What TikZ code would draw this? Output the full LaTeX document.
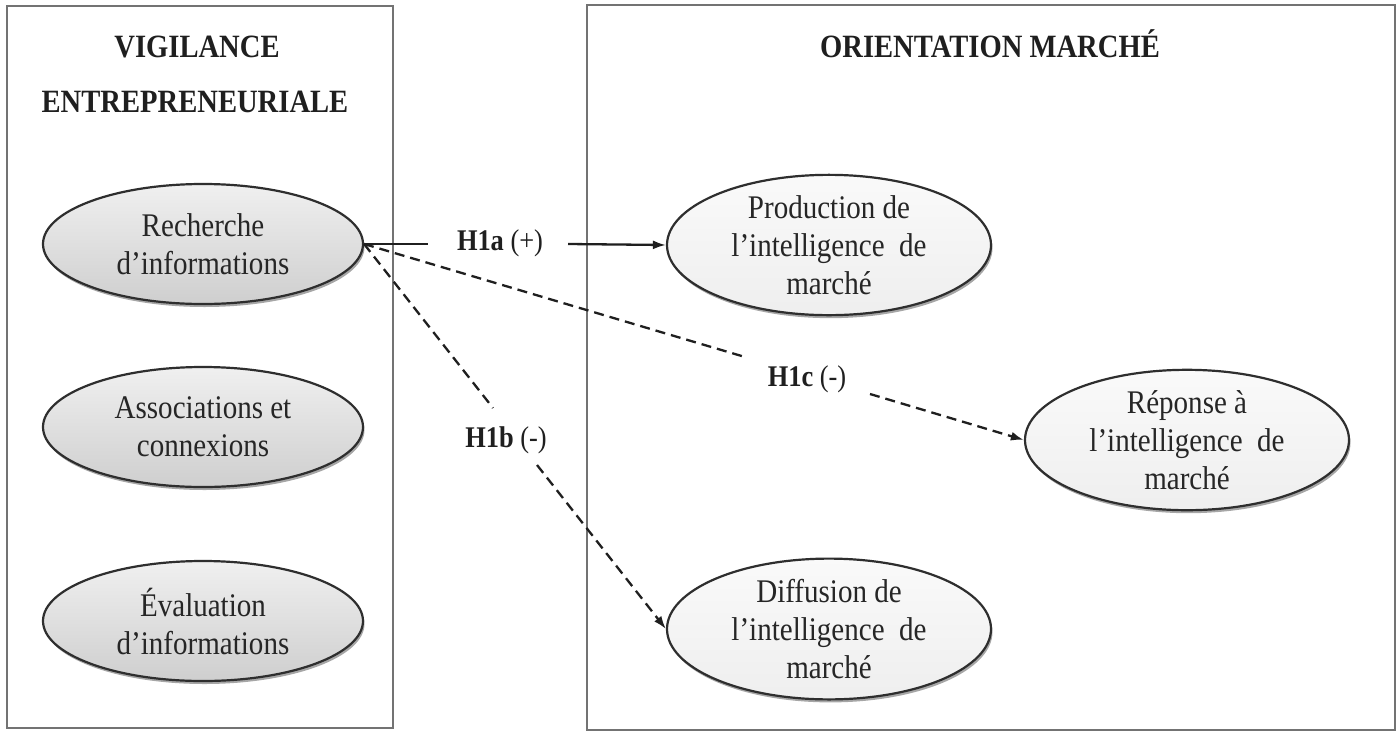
\documentclass[tikz,border=0pt]{standalone}
\usepackage{fontspec}
\setmainfont{Liberation Serif}[FakeStretch=0.88]
\usetikzlibrary{shapes.geometric,arrows.meta,shadows}
\begin{document}
\begin{tikzpicture}[x=1pt,y=-1pt,
  boxline/.style={draw=black!55,line width=1.5pt},
  title/.style={font=\fontsize{32.5}{36}\selectfont\bfseries,text=black!88,anchor=base},
  ellbase/.style={ellipse,draw=black!82,line width=2.2pt,inner sep=0pt,align=center,
     text=black!85,font=\fontsize{33}{38}\selectfont,
     drop shadow={shadow xshift=1.5pt,shadow yshift=-3pt,opacity=0.35,fill=black}},
  lell/.style={ellbase,minimum width=320pt,minimum height=120pt,top color=gray!12,bottom color=gray!38},
  rell/.style={ellbase,minimum width=324pt,minimum height=131pt,top color=gray!4,bottom color=gray!13},
  lab/.style={font=\fontsize{30}{34}\selectfont,text=black!88,inner sep=0pt},
  conn/.style={draw=black!88,line width=2.3pt},
  dconn/.style={conn,dash pattern=on 10pt off 6pt},
  tip/.style={-{Latex[length=13pt,width=9pt]}}
]
\useasboundingbox (0,0) rectangle (1399,731);
\fill[white] (0,0) rectangle (1399,731);
\draw[boxline] (7,6) rectangle (393,728);
\draw[boxline] (587,5) rectangle (1395,730);

\node[title] (t1) at (197,57) {VIGILANCE};
\node[title] (t2) at (195,112) {ENTREPRENEURIALE};
\node[title] (t3) at (990,57) {ORIENTATION MARCHÉ};

\node[lell] (rech) at (203,244) {Recherche\\d’informations};
\node[lell] (asso) at (203,427) {Associations et\\connexions};
\node[lell] (eval) at (203,621) {Évaluation\\d’informations};

\node[rell] (prod) at (829,245) {Production de\\l’intelligence\ \ de\\marché};
\node[rell] (rep) at (1187,440) {Réponse à\\l’intelligence\ \ de\\marché};
\node[rell] (diff) at (829,629) {Diffusion de\\l’intelligence\ \ de\\marché};

\node[lab] (h1a) at (500,243) {\textbf{H1a} (+)};
\node[lab] (h1b) at (506,440) {\textbf{H1b} (-)};
\node[lab] (h1c) at (807,379) {\textbf{H1c} (-)};

\coordinate (a1) at (428,244);
\coordinate (a2) at (568,244);
\coordinate (b1) at (493,408);
\coordinate (b2) at (537,465);
\coordinate (c1) at (745,357);
\coordinate (c2) at (870,394);

\draw[conn] (rech.east) -- (a1);
\draw[conn,tip] (a2) -- (prod.west);
\draw[dconn] (rech.east) -- (b1);
\draw[dconn,tip] (b2) -- (diff.west);
\draw[dconn] (rech.east) -- (c1);
\draw[dconn,tip] (c2) -- (rep.west);
\end{tikzpicture}
\end{document}
